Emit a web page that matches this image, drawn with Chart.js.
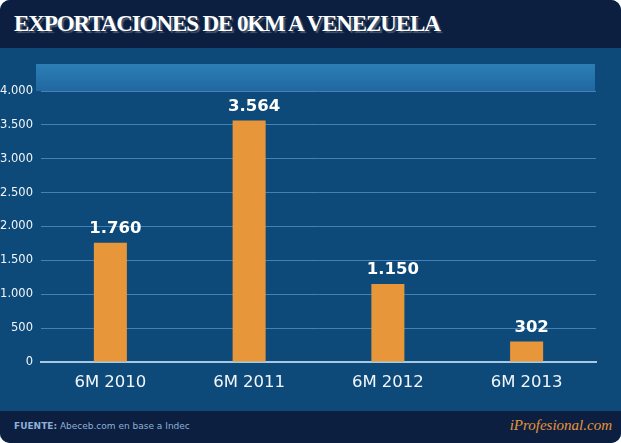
<!DOCTYPE html>
<html>
<head>
<meta charset="utf-8">
<script src="https://cdn.jsdelivr.net/npm/chart.js@4"></script>
<style>
  html, body { margin: 0; padding: 0; background: #ffffff; }
  #wrap { position: relative; width: 621px; height: 443px; overflow: hidden;
          border-radius: 10px; background: #0d4a7a; }
  #head { position: absolute; left: 0; top: 0; width: 621px; height: 48px; background: #0c1f40; }
  #head h1 { margin: 0; position: absolute; left: 14px; top: 11px; font: bold 23px "Liberation Serif", serif;
             color: #ffffff; letter-spacing: -1.1px; text-shadow: 2px 2px 1px #4a5a70; }
  #band { position: absolute; left: 36px; top: 64px; width: 559px; height: 27px;
          background: linear-gradient(#2c7fb6, #2167a0); }
  #foot { position: absolute; left: 0; top: 411px; width: 621px; height: 32px; background: #0c1f40; }
  #src { position: absolute; left: 14px; top: 10px; font: 9px "DejaVu Sans", sans-serif; color: #8fb0d8; }
  #brand { position: absolute; right: 9px; top: 6px; font: italic 15px "Liberation Serif", serif; color: #e8963a; }
  #chart { position: absolute; left: 0; top: 0; }
</style>
</head>
<body>
<div id="wrap">
  <div id="head"><h1>EXPORTACIONES DE 0KM A VENEZUELA</h1></div>
  <div id="band"></div>
  <div id="foot">
    <div id="src"><b>FUENTE:</b> Abeceb.com en base a Indec</div>
    <div id="brand">iProfesional.com</div>
  </div>
  <canvas id="chart" width="621" height="443"></canvas>
</div>
<script>
const categories = ["6M 2010", "6M 2011", "6M 2012", "6M 2013"];
const units = [1760, 3564, 1150, 302];

const fmt = (v) => String(v).replace(/\B(?=(\d{3})+(?!\d))/g, ".");

// value labels above each bar
const barLabels = {
  id: "barLabels",
  afterDatasetsDraw(chart) {
    const c = chart.ctx;
    const meta = chart.getDatasetMeta(0);
    c.save();
    c.font = "bold 16.5px 'DejaVu Sans', sans-serif";
    c.fillStyle = "#ffffff";
    c.textAlign = "center";
    c.textBaseline = "alphabetic";
    meta.data.forEach((bar, i) => {
      c.fillText(fmt(units[i]), bar.x + 5, bar.y - 10);
    });
    c.restore();
  }
};

const ctx = document.getElementById("chart").getContext("2d");
new Chart(ctx, {
  type: "bar",
  data: {
    labels: categories,
    datasets: [{
      data: units,
      backgroundColor: "#e8963a",
      categoryPercentage: 1,
      barPercentage: 0.238
    }]
  },
  options: {
    responsive: false,
    animation: false,
    layout: { padding: { top: 91, right: 25, bottom: 32, left: 0 } },
    plugins: { legend: { display: false }, tooltip: { enabled: false } },
    scales: {
      x: {
        grid: { display: false, drawTicks: false },
        border: { color: "#a9c9e3", width: 2 },
        ticks: { color: "#f2f6fa", font: { family: "DejaVu Sans", size: 16.5 }, padding: 11 },
        afterFit: (s) => { s.height = 49; }
      },
      y: {
        min: 0, max: 4000,
        grid: { color: "#4282b8", drawTicks: false },
        border: { display: false },
        ticks: { stepSize: 500, color: "#f2f6fa", font: { family: "DejaVu Sans", size: 11.5 },
                 padding: 8, callback: (v) => fmt(v) },
        afterFit: (s) => { s.width = 41; }
      }
    }
  },
  plugins: [barLabels]
});
</script>
</body>
</html>
